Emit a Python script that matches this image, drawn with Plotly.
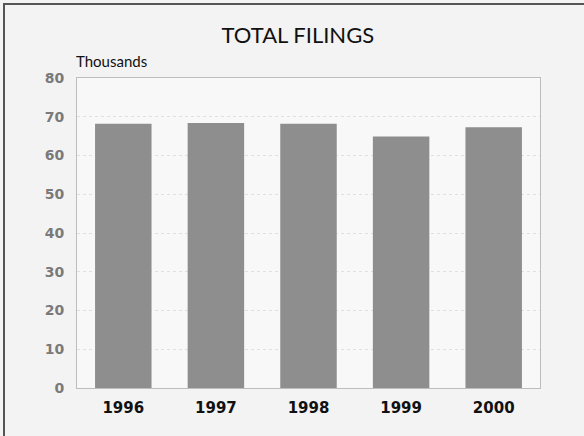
import plotly.graph_objects as go

years = ["1996", "1997", "1998", "1999", "2000"]
filings = [68.2, 68.4, 68.2, 64.9, 67.3]
y_ticks = [0, 10, 20, 30, 40, 50, 60, 70, 80]

fig = go.Figure()
fig.add_trace(go.Bar(
    x=years, y=filings,
    marker=dict(color="#8e8e8e", line=dict(width=0)),
    width=0.61,
))

W, H = 584, 436
L, R, T, B = 77, 44, 78, 48

fig.update_layout(
    width=W, height=H,
    margin=dict(l=L, r=R, t=T, b=B),
    paper_bgcolor="#f3f3f3",
    plot_bgcolor="#f8f8f8",
    showlegend=False,
    bargap=0.39,
    title=dict(text="TOTAL FILINGS", x=0.51, xanchor="center", y=0.918, yanchor="middle",
               font=dict(family="Lato, Open Sans, sans-serif", size=22, color="#111111")),
    xaxis=dict(
        showgrid=False, zeroline=False,
        showline=True, linecolor="#bdbdbd", linewidth=1, mirror=True,
        ticks="", ticklabelstandoff=6,
        tickfont=dict(family="DejaVu Sans, sans-serif", size=15, color="#111111", weight="bold"),
    ),
    yaxis=dict(
        range=[0, 80], tickvals=y_ticks,
        showgrid=True, gridcolor="#e0e0e0", griddash="dot", gridwidth=1,
        zeroline=False,
        showline=True, linecolor="#bdbdbd", linewidth=1, mirror=True,
        ticks="", ticklabelstandoff=9,
        tickfont=dict(family="DejaVu Sans, sans-serif", size=14, color="#7a7a7a", weight="bold"),
    ),
    annotations=[dict(
        text="Thousands", xref="paper", yref="paper", x=0.0, y=1.0,
        xanchor="left", yanchor="bottom", yshift=6, xshift=-3, showarrow=False,
        font=dict(family="Lato, Open Sans, sans-serif", size=15, color="#111111"),
    )],
    shapes=[
        dict(type="line", xref="paper", yref="paper",
             x0=(4 - L) / (W - L - R), x1=(4 - L) / (W - L - R),
             y0=(H - B - 3) / (H - T - B), y1=(H - B - 440) / (H - T - B),
             line=dict(color="#555555", width=2)),
        dict(type="line", xref="paper", yref="paper",
             x0=(3 - L) / (W - L - R), x1=(590 - L) / (W - L - R),
             y0=(H - B - 4) / (H - T - B), y1=(H - B - 4) / (H - T - B),
             line=dict(color="#555555", width=2)),
    ],
)

fig.write_html("out.html", config={"displayModeBar": False},
               post_script="document.body.style.margin='0';document.body.style.overflow='hidden';")
